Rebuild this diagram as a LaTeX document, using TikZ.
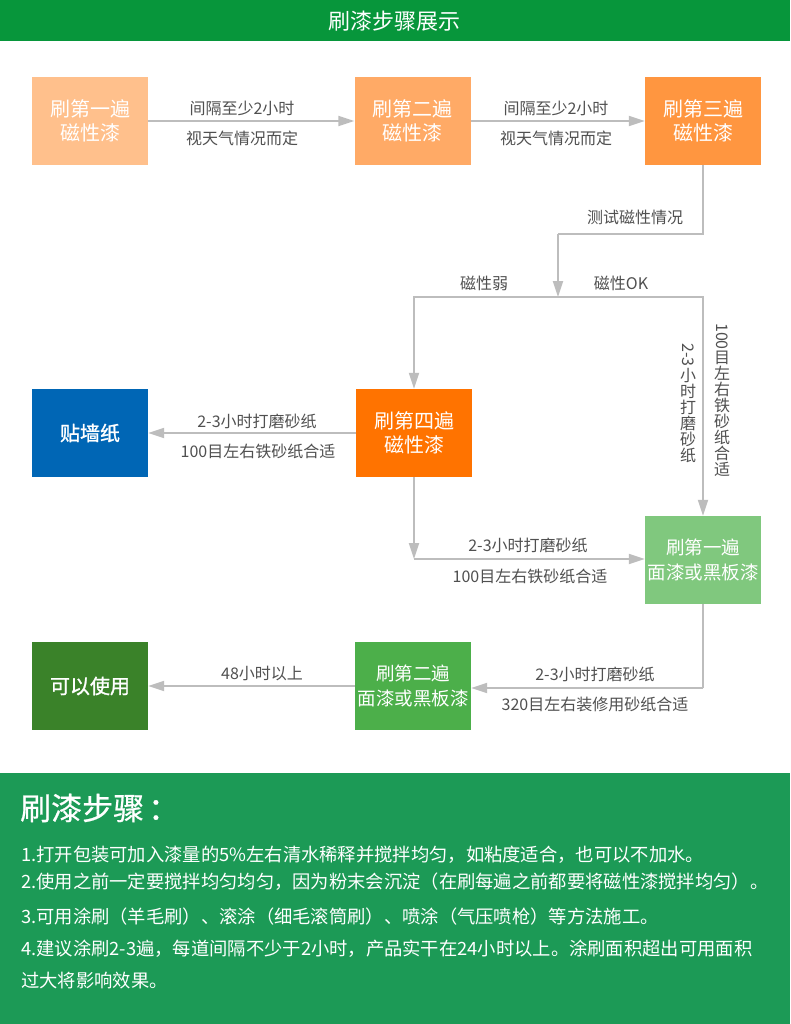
\documentclass[tikz,border=0pt]{standalone}
\usepackage{fontspec}
\setmainfont{Noto Sans CJK SC}
\newfontfamily\medfont{Noto Sans CJK SC}[FakeBold=1.2]
\newfontfamily\semifont{Noto Sans CJK SC}[FakeBold=0.6]
\usetikzlibrary{arrows.meta}
\definecolor{bannergreen}{RGB}{7,150,59}
\definecolor{panelgreen}{RGB}{28,154,86}
\definecolor{oA}{RGB}{255,192,140}
\definecolor{oB}{RGB}{255,170,102}
\definecolor{oC}{RGB}{255,150,64}
\definecolor{oD}{RGB}{255,115,0}
\definecolor{wblue}{RGB}{0,102,181}
\definecolor{gA}{RGB}{128,200,126}
\definecolor{gB}{RGB}{76,175,74}
\definecolor{gC}{RGB}{58,130,41}
\definecolor{arrowgray}{RGB}{189,189,189}
\definecolor{labelgray}{RGB}{80,80,80}
\begin{document}
\begin{tikzpicture}[x=1pt,y=-1pt,
 stepbox/.style={rectangle, minimum width=116pt, minimum height=88pt, inner sep=0pt, text=white, align=center},
 ostep/.style={stepbox, font=\fontsize{20}{24}\selectfont},
 gstep/.style={stepbox, font=\fontsize{18.5}{25}\selectfont},
 endstep/.style={stepbox, font=\medfont\fontsize{20}{24}\selectfont},
 conn/.style={draw=arrowgray, line width=2pt},
 arr/.style={conn, -{Triangle[length=16pt,width=10pt]}},
 lbl/.style={inner sep=0pt, text=labelgray, font=\fontsize{16}{18}\selectfont},
 vlbl/.style={inner sep=0pt, text=labelgray, align=center, font=\fontsize{16}{16}\selectfont},
 body/.style={anchor=west, inner sep=0pt, text=white, font=\fontsize{18.3}{20}\selectfont}]
\useasboundingbox (0,0) rectangle (790,1024);
\fill[white] (0,0) rectangle (790,1024);
% banners
\fill[bannergreen] (0,0) rectangle (790,41);
\node[inner sep=0pt, text=white, font=\fontsize{22}{24}\selectfont] (title) at (394,21) {刷漆步骤展示};
\fill[panelgreen] (0,773) rectangle (790,1024);

% boxes
\node[ostep, fill=oA] (B1) at (90,121) {刷第一遍\\磁性漆};
\node[ostep, fill=oB] (B2) at (412.5,121) {刷第二遍\\磁性漆};
\node[ostep, fill=oC] (B3) at (703,121) {刷第三遍\\磁性漆};
\node[ostep, fill=oD] (B4) at (414,433) {刷第四遍\\磁性漆};
\node[endstep, fill=wblue] (W) at (90,433) {贴墙纸};
\node[gstep, fill=gA] (G1) at (703,560) {刷第一遍\\面漆或黑板漆};
\node[gstep, fill=gB] (G2) at (413,686) {刷第二遍\\面漆或黑板漆};
\node[endstep, fill=gC] (U) at (90,686) {可以使用};

% coordinates
\coordinate (c1) at (558,234);
\coordinate (split) at (558,297);
\coordinate (c2) at (414,559);
\coordinate (c3) at (703,688);

% connectors
\draw[arr] (B1.east) -- (B2.west);
\draw[arr] (B2.east) -- (B3.west);
\draw[conn] (B3.south) |- (c1);
\draw[arr] (c1) -- (split);
\draw[arr] (split) -| (B4.north);
\draw[arr] (split) -| (G1.north);
\draw[arr] (B4.west) -- (W.east);
\draw[arr] (B4.south) -- (c2);
\draw[arr] (c2) -- (c2 -| G1.west);
\draw[conn] (G1.south) -- (c3);
\draw[arr] (c3) -- (c3 -| G2.east);
\draw[arr] (G2.west) -- (U.east);

% labels
\node[lbl] (l1a) at (242,108.5) {间隔至少2小时};
\node[lbl] (l1b) at (242,138.5) {视天气情况而定};
\node[lbl] (l2a) at (556,108.5) {间隔至少2小时};
\node[lbl] (l2b) at (556,138.5) {视天气情况而定};
\node[lbl] (l3) at (635,217) {测试磁性情况};
\node[lbl] (l4a) at (484,283) {磁性弱};
\node[lbl] (l4b) at (621,283) {磁性OK};
% vertical labels: digits turned, characters upright
\node[lbl, rotate=-90, anchor=west] (l5an) at (688,343) {2-3};
\node[vlbl, anchor=north] (l5a) at (688,368) {小\\时\\打\\磨\\砂\\纸};
\node[lbl, rotate=-90, anchor=west] (l5bn) at (722,323) {100};
\node[vlbl, anchor=north] (l5b) at (722,351) {目\\左\\右\\铁\\砂\\纸\\合\\适};
\node[lbl] (l6a) at (257,421) {2-3小时打磨砂纸};
\node[lbl] (l6b) at (258,451) {100目左右铁砂纸合适};
\node[lbl] (l7a) at (528,545) {2-3小时打磨砂纸};
\node[lbl] (l7b) at (530,576) {100目左右铁砂纸合适};
\node[lbl] (l8a) at (595,674) {2-3小时打磨砂纸};
\node[lbl] (l8b) at (595,704) {320目左右装修用砂纸合适};
\node[lbl] (l9) at (262,674) {48小时以上};

% bottom panel text
\node[anchor=west, inner sep=0pt, text=white, font=\semifont\fontsize{31}{33}\selectfont] (head) at (20,808) {刷漆步骤\hspace{4pt}：};
\node[body] (t1) at (21,855) {1.打开包装可加入漆量的5\%左右清水稀释并搅拌均匀，如粘度适合，也可以不加水。};
\node[body] (t2) at (21,882) {2.使用之前一定要搅拌均匀均匀，因为粉末会沉淀（在刷每遍之前都要将磁性漆搅拌均匀）。};
\node[body] (t3) at (21,917) {3.可用涂刷（羊毛刷）、滚涂（细毛滚筒刷）、喷涂（气压喷枪）等方法施工。};
\node[body] (t4) at (21,949) {4.建议涂刷2-3遍，每道间隔不少于2小时，产品实干在24小时以上。涂刷面积超出可用面积};
\node[body] (t5) at (21,981) {过大将影响效果。};
\end{tikzpicture}
\end{document}
